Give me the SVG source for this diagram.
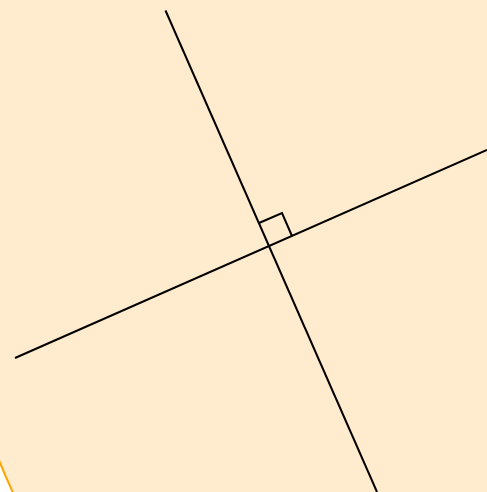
<svg xmlns="http://www.w3.org/2000/svg" width="487" height="492" viewBox="0 0 487 492">
<style>
.ln{stroke:#000;stroke-width:2;fill:none;stroke-linecap:butt;stroke-linejoin:miter}
</style>
<rect width="487" height="492" fill="#fff"/>
<g id="circle">
<circle cx="648" cy="198" r="700" fill="#FFEBCD" stroke="#FFA500" stroke-width="2"/>
</g>
<g id="connectors">
<line class="ln" x1="165.5" y1="10.5" x2="377" y2="492"/>
<line class="ln" x1="15" y1="358" x2="487" y2="150"/>
<polyline class="ln" points="259,223 282,213 292,236"/>
</g>
</svg>
